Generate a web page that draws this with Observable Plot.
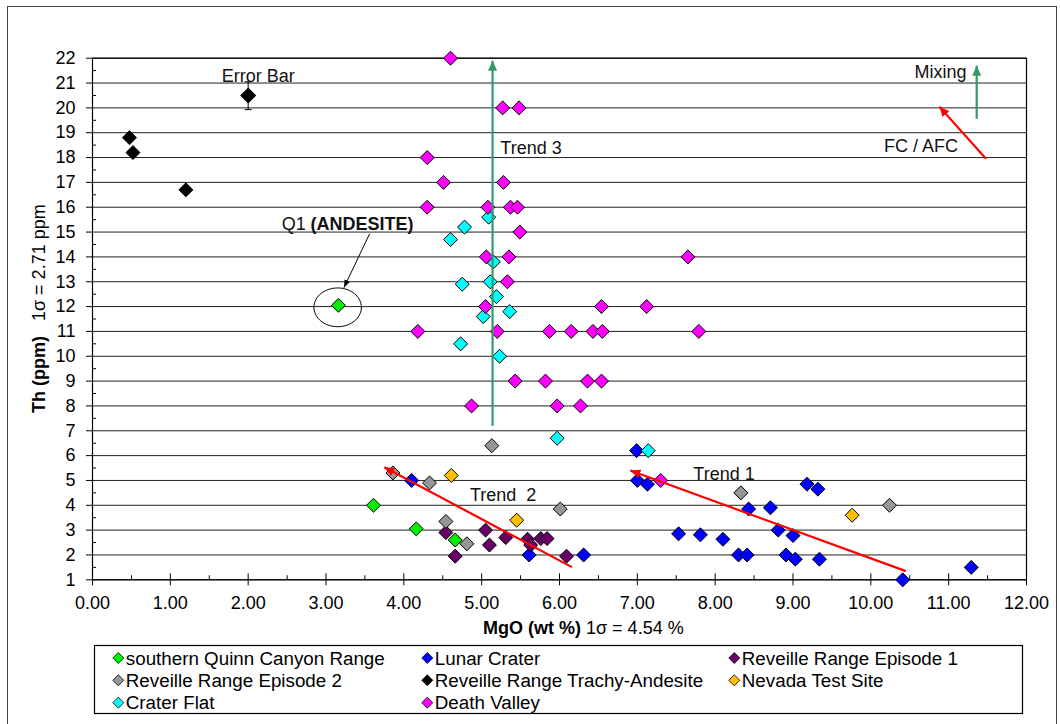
<!DOCTYPE html>
<html><head><meta charset="utf-8">
<script src="https://cdn.jsdelivr.net/npm/d3@7"></script>
<script src="https://cdn.jsdelivr.net/npm/@observablehq/plot@0.6"></script>
<style>
body{margin:0;background:#fff;width:1060px;height:724px;overflow:hidden;position:relative;font-family:'Liberation Sans',Arial,sans-serif;}
#frame{position:absolute;left:7px;top:6px;width:1050px;height:760px;border:1px solid #444;box-sizing:border-box;}
#chart{position:absolute;left:0;top:0;}
#legend{position:absolute;left:0;top:640px;}
</style></head><body>
<div id="frame"></div><div id="chart"></div><div id="legend"></div>
<script>
// ---------- data (MgO wt %, Th ppm) ----------
const quinnCanyon = [[3.16,12.05],[3.61,4.0],[4.16,3.05],[4.66,2.6]];
const lunarCrater = [[4.10,5.0],[5.61,2.0],[6.31,2.0],[6.99,6.2],[7.00,5.0],[7.13,4.85],[7.53,2.85],[7.81,2.81],[8.10,2.63],[8.30,2.0],[8.41,2.0],[8.43,3.85],[8.71,3.9],[8.81,3.0],[8.91,2.0],[9.00,2.78],[9.03,1.83],[9.18,4.85],[9.32,4.65],[9.34,1.83],[10.41,1.0],[11.29,1.5]];
const reveille1 = [[4.54,2.9],[4.66,1.95],[5.05,3.0],[5.10,2.4],[5.31,2.7],[5.59,2.63],[5.63,2.4],[5.76,2.66],[5.84,2.66],[6.09,1.95]];
const reveille2 = [[3.86,5.3],[4.33,4.9],[4.54,3.35],[4.81,2.45],[5.13,6.4],[6.01,3.85],[8.33,4.5],[10.24,4.0]];
const trachyAndesite = [[0.475,18.8],[0.52,18.2],[1.20,16.7]];
const nevadaTestSite = [[4.61,5.2],[5.45,3.4],[9.76,3.6]];
const craterFlat = [[5.09,15.6],[4.78,15.2],[4.60,14.7],[5.15,13.8],[4.75,12.9],[5.11,13.0],[5.19,12.4],[5.02,11.6],[5.36,11.8],[4.73,10.5],[5.23,10.0],[5.97,6.7],[7.14,6.2]];
const deathValley = [[4.60,22],[5.27,20],[5.48,20],[4.30,18],[4.51,17],[5.28,17],[4.30,16],[5.08,16],[5.37,16],[5.46,16],[5.49,15],[5.06,14],[5.35,14],[7.65,14],[5.33,13],[5.05,12],[6.54,12],[7.12,12],[4.18,11],[5.20,11],[5.87,11],[6.15,11],[6.43,11],[6.55,11],[7.79,11],[5.43,9],[5.82,9],[6.36,9],[6.54,9],[4.87,8],[5.97,8],[6.27,8],[7.30,5.0]];

const seriesNames = ["southern Quinn Canyon Range","Lunar Crater","Reveille Range Episode 1","Reveille Range Episode 2","Reveille Range Trachy-Andesite","Nevada Test Site","Crater Flat","Death Valley"];
const seriesData = [quinnCanyon, lunarCrater, reveille1, reveille2, trachyAndesite, nevadaTestSite, craterFlat, deathValley];
const seriesColors = ["#00ee00","#0000ff","#660066","#969696","#000000","#ffc000","#00ffff","#ff00ff"];

// error bar sample
const errorBarPoint = [[2.0, 20.5]];
const errorBarRange = [[19.93, 21.05]];

// ticks
const xTicks = [0,1,2,3,4,5,6,7,8,9,10,11,12];
const xMinorTicks = [0.5,1.5,2.5,3.5,4.5,5.5,6.5,7.5,8.5,9.5,10.5,11.5];
const yTicks = [1,2,3,4,5,6,7,8,9,10,11,12,13,14,15,16,17,18,19,20,21,22];
const yMinorTicks = [1.5,2.5,3.5,4.5,5.5,6.5,7.5,8.5,9.5,10.5,11.5,12.5,13.5,14.5,15.5,16.5,17.5,18.5,19.5,20.5,21.5];

// annotation arrows [x1,y1,x2,y2]
const greenArrows = [[5.14,7.2,5.14,21.9],[11.36,19.56,11.36,21.7]];
const redArrows = [[11.48,17.95,10.88,20.05],[6.16,1.51,3.75,5.53],[10.45,1.35,6.91,5.40]];
const pointerArrow = [[3.56,14.93,3.23,12.76]];
// annotation texts [label, x, y, anchor]
const annotationTexts = [["Error Bar",2.13,21.27,"middle"],["Trend 3",5.24,18.36,"start"],["Mixing",11.23,21.45,"end"],["FC / AFC",11.12,18.47,"end"],["Trend  2",4.85,4.39,"start"],["Trend 1",7.72,5.27,"start"],["Q1",2.43,15.31,"start"]];
const boldTexts = [["(ANDESITE)",2.80,15.31,"start"]];
// ellipse around Q1: center and radii (data units)
const ellipseCenter = [3.15, 11.97];
const ellipseRadii = [0.305, 0.78];

const ellipsePts = d3.range(0, 73).map(i => {
  const t = i / 72 * 2 * Math.PI;
  return [ellipseCenter[0] + ellipseRadii[0]*Math.cos(t), ellipseCenter[1] + ellipseRadii[1]*Math.sin(t)];
});

const capSymbol = {draw(ctx){ ctx.moveTo(-3.5,0); ctx.lineTo(3.5,0); }};

// filled triangular arrowhead marker
function headMarker(len, wid) {
  return (color, context) => {
    const ns = "http://www.w3.org/2000/svg";
    const doc = (context && context.document) || document;
    const m = doc.createElementNS(ns, "marker");
    m.setAttribute("viewBox", `0 ${-wid/2} ${len} ${wid}`);
    m.setAttribute("markerUnits", "userSpaceOnUse");
    m.setAttribute("markerWidth", len);
    m.setAttribute("markerHeight", wid);
    m.setAttribute("refX", len);
    m.setAttribute("refY", 0);
    m.setAttribute("orient", "auto");
    const p = doc.createElementNS(ns, "path");
    p.setAttribute("d", `M0,${-wid/2}L${len},0L0,${wid/2}Z`);
    p.setAttribute("fill", color);
    p.setAttribute("stroke", "none");
    m.appendChild(p);
    return m;
  };
}

function arrowMark(data, stroke, sw, len, wid) {
  const opts = {x1: d => d[0], y1: d => d[1], x2: d => d[2], y2: d => d[3], stroke, strokeWidth: sw};
  try {
    const mk = Plot.link(data, {...opts, markerEnd: headMarker(len, wid)});
    return mk;
  } catch (e) {
    return Plot.arrow(data, {...opts, headLength: len, headAngle: 50});
  }
}

const dotMarks = seriesData.map((d, i) => Plot.dot(d, {
  x: p => p[0], y: p => p[1], symbol: "diamond2", r: 6.3,
  fill: seriesColors[i], stroke: "black", strokeWidth: 1
}));

const textMarks = ["start", "middle", "end"].map(a => Plot.text(annotationTexts.filter(t => t[3] === a), {
  text: d => d[0], x: d => d[1], y: d => d[2], textAnchor: a, fontSize: 18, fill: "#111"
}));

const chart = Plot.plot({
  width: 1060, height: 640,
  marginLeft: 92, marginRight: 34, marginTop: 57.7, marginBottom: 60.7,
  x: {domain: [0, 12]},
  y: {domain: [1, 22]},
  style: {fontFamily: "'Liberation Sans', Arial, sans-serif", fontSize: "18px", color: "black", background: "transparent", overflow: "visible"},
  marks: [
    Plot.ruleY(yTicks, {stroke: "#222", strokeWidth: 1}),
    Plot.frame({stroke: "black", strokeWidth: 1.2}),
    Plot.axisY({ticks: yTicks, tickSize: 6, tickPadding: 11, tickFormat: d => String(d), label: null}),
    Plot.axisY({ticks: yMinorTicks, tickSize: -4, tickFormat: () => "", label: null}),
    Plot.axisX({ticks: xTicks, tickSize: 6, tickPadding: 10, tickFormat: d3.format(".2f"), label: null}),
    Plot.axisX({ticks: xTicks, tickSize: -6, tickFormat: () => "", label: null}),
    Plot.axisX({ticks: xMinorTicks, tickSize: -4, tickFormat: () => "", label: null}),
    // error bar
    Plot.ruleX(errorBarRange, {x: () => errorBarPoint[0][0], y1: d => d[0], y2: d => d[1], stroke: "black", strokeWidth: 1}),
    Plot.dot([[errorBarPoint[0][0], errorBarRange[0][0]], [errorBarPoint[0][0], errorBarRange[0][1]]], {x: d => d[0], y: d => d[1], symbol: capSymbol, stroke: "black", strokeWidth: 1}),
    Plot.dot(errorBarPoint, {x: d => d[0], y: d => d[1], symbol: "diamond2", r: 6.3, fill: "black", stroke: "black"}),
    ...dotMarks,
    Plot.line(ellipsePts, {x: d => d[0], y: d => d[1], stroke: "black", strokeWidth: 1}),
    arrowMark(greenArrows, "#339966", 2.2, 10, 9),
    arrowMark(redArrows, "#ff0000", 2.2, 10, 9),
    arrowMark(pointerArrow, "black", 1, 8, 6),
    ...textMarks,
    Plot.text(boldTexts, {text: d => d[0], x: d => d[1], y: d => d[2], textAnchor: "start", fontSize: 18, fontWeight: "bold", fill: "#111"})
  ]
});
document.getElementById("chart").appendChild(chart);

// axis titles
const svg = d3.select(chart);
const yt = svg.append("text").attr("transform", "translate(45,413) rotate(-90)")
  .attr("font-size", 18).attr("fill", "black").attr("text-anchor", "start");
yt.append("tspan").attr("font-weight", "bold").text("Th (ppm)");
yt.append("tspan").attr("dx", 15).text("1σ = 2.71 ppm");
const xt = svg.append("text").attr("x", 483).attr("y", 633.5)
  .attr("font-size", 18).attr("fill", "black").attr("text-anchor", "start");
xt.append("tspan").attr("font-weight", "bold").text("MgO (wt %)");
xt.append("tspan").text(" 1σ = 4.54 %");

// legend
const leg = d3.select("#legend").append("svg").attr("width", 1060).attr("height", 84)
  .style("font-family", "'Liberation Sans', Arial, sans-serif");
leg.append("rect").attr("x", 94.5).attr("y", 5.5).attr("width", 928).attr("height", 68)
  .attr("fill", "white").attr("stroke", "black").attr("stroke-width", 1.2);
const colX = [118.3, 427.3, 734.3];
const rowY = [18, 40.3, 62.7];
seriesNames.forEach((name, i) => {
  const cx = colX[i % 3], cy = rowY[Math.floor(i / 3)];
  const g = leg.append("g").attr("transform", `translate(${cx},${cy})`);
  g.append("path").attr("d", "M0,-5.5L5.5,0L0,5.5L-5.5,0Z").attr("fill", seriesColors[i]).attr("stroke", "black").attr("stroke-width", 0.8);
  g.append("text").attr("x", 7.5).attr("y", 6.5).attr("font-size", 18.8).attr("fill", "black").text(name);
});
</script></body></html>
